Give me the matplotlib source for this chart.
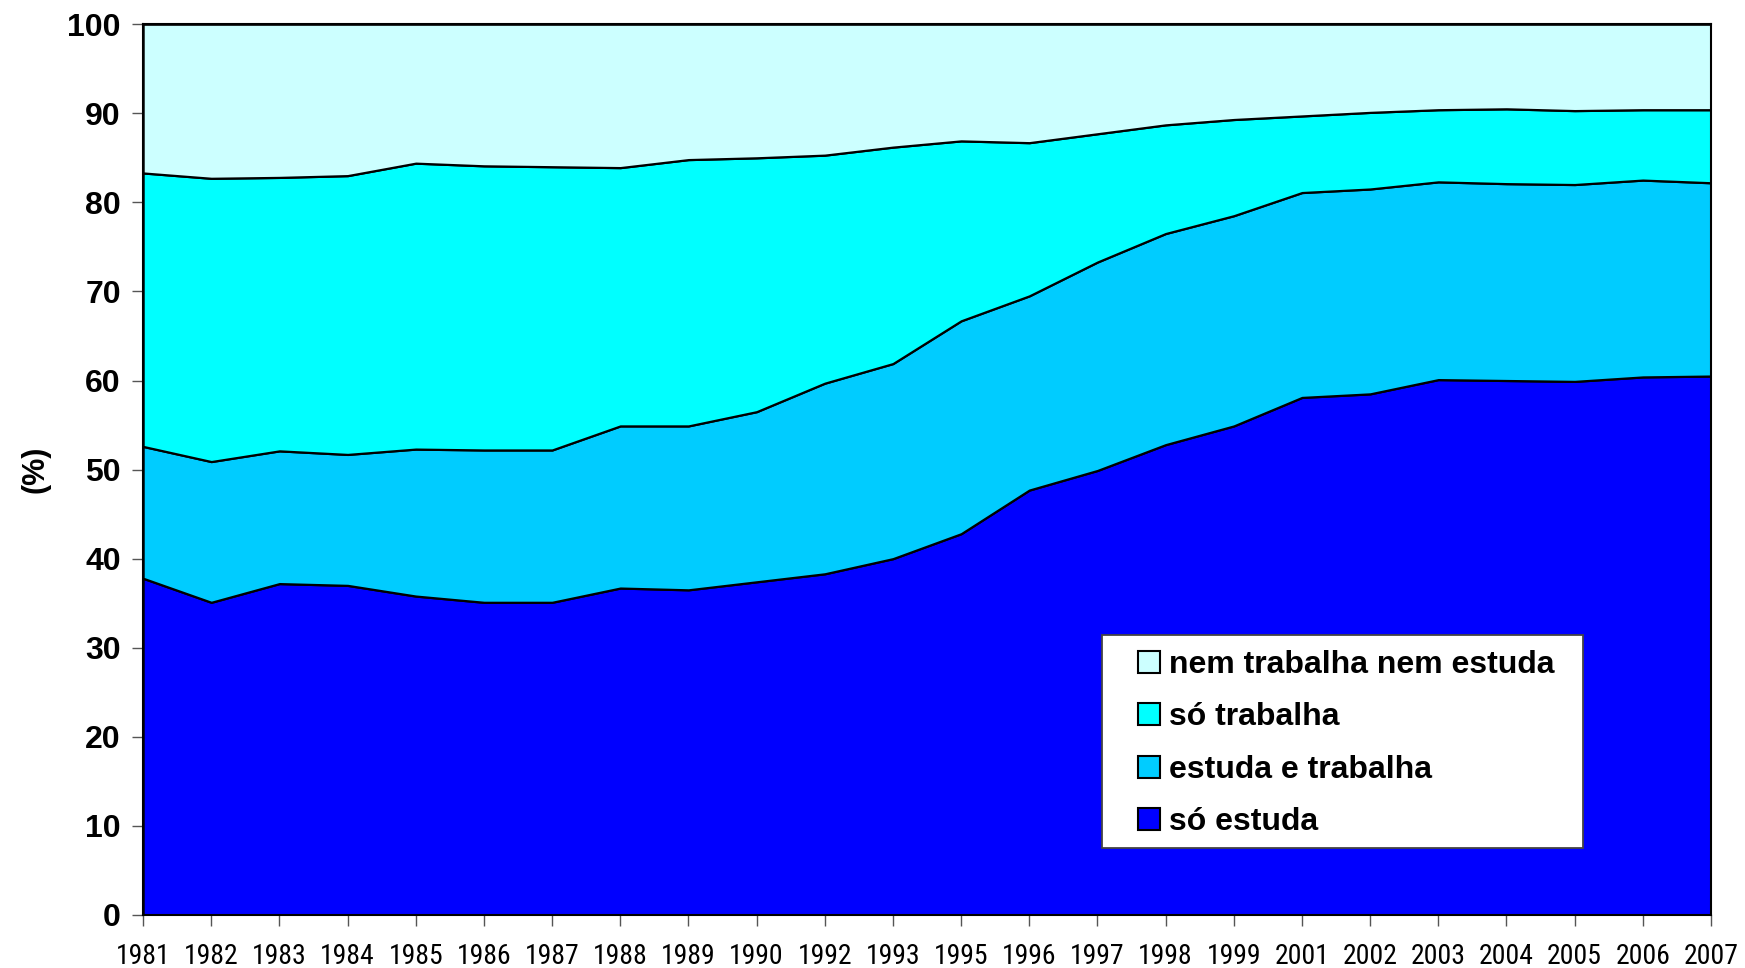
import numpy as np
import matplotlib
matplotlib.use("Agg")
import matplotlib.pyplot as plt
from matplotlib import font_manager
from matplotlib.patches import Rectangle

anos = ["1981", "1982", "1983", "1984", "1985", "1986", "1987", "1988", "1989", "1990",
        "1992", "1993", "1995", "1996", "1997", "1998", "1999", "2001", "2002", "2003",
        "2004", "2005", "2006", "2007"]

so_estuda = [37.8, 35.1, 37.2, 37.0, 35.8, 35.1, 35.1, 36.7, 36.5, 37.4, 38.3, 40.0,
             42.8, 47.7, 49.9, 52.8, 54.9, 58.1, 58.5, 60.1, 60.0, 59.9, 60.4, 60.5]
estuda_trabalha = [14.8, 15.8, 14.9, 14.7, 16.5, 17.1, 17.1, 18.2, 18.4, 19.1, 21.4, 21.9,
                   23.9, 21.8, 23.4, 23.7, 23.6, 23.0, 23.0, 22.2, 22.1, 22.1, 22.1, 21.7]
so_trabalha = [30.7, 31.8, 30.7, 31.3, 32.1, 31.9, 31.8, 29.0, 29.9, 28.5, 25.6, 24.3,
               20.2, 17.2, 14.4, 12.2, 10.8, 8.6, 8.6, 8.1, 8.4, 8.3, 7.9, 8.2]
nem_nem = [16.7, 17.3, 17.2, 17.0, 15.6, 15.9, 16.0, 16.1, 15.2, 15.0, 14.7, 13.8,
           13.1, 13.3, 12.3, 11.3, 10.7, 10.3, 9.9, 9.6, 9.5, 9.7, 9.6, 9.6]

labels = ["só estuda", "estuda e trabalha", "só trabalha", "nem trabalha nem estuda"]
cores = ["#0000ff", "#00ccff", "#00ffff", "#ccffff"]

plt.rcParams["font.family"] = ["Liberation Sans", "DejaVu Sans"]

# fonte estreita pros anos, se tiver
narrow = None
for f in font_manager.fontManager.ttflist:
    if "Narrow" in f.name or "Condensed" in f.name:
        if f.weight in (400, "normal", "regular") and f.style == "normal":
            narrow = f.name
            if "Liberation" in f.name:
                break

fig = plt.figure(figsize=(17.45, 9.68), dpi=100)
ax = fig.add_axes([0.082, 0.0548, 0.8985, 0.9202])

x = np.arange(len(anos))
ax.stackplot(x, so_estuda, estuda_trabalha, so_trabalha, nem_nem,
             colors=cores, labels=labels, edgecolor="black", linewidth=1.6)

ax.set_xlim(0, len(anos) - 1)
ax.set_ylim(0, 100)
ax.set_yticks(range(0, 101, 10))
ax.set_xticks(x)
if narrow:
    ax.set_xticklabels(anos, fontsize=20, family=[narrow, "DejaVu Sans"])
else:
    ax.set_xticklabels(anos, fontsize=15)
for t in ax.get_yticklabels():
    t.set_fontsize(23)
    t.set_fontweight("bold")
ax.tick_params(axis="y", direction="out", length=8, width=1, color="#555555", pad=8)
ax.tick_params(axis="x", direction="out", length=8, width=1, color="#555555", pad=12)
for s in ax.spines.values():
    s.set_linewidth(1.5)
    s.set_color("black")

ax.set_ylabel("(%)", fontsize=22, fontweight="bold", labelpad=12)

# caixa da legenda
fig.add_artist(Rectangle((0.6315, 0.124), 0.2756, 0.220, transform=fig.transFigure,
                         facecolor="white", edgecolor="#444444", linewidth=1.3, zorder=4))

h, l = ax.get_legend_handles_labels()
leg = fig.legend(h[::-1], l[::-1], loc="upper left", bbox_to_anchor=(0.6521, 0.3285),
                 prop={"weight": "bold", "size": 23}, handlelength=0.68, handleheight=0.68,
                 handletextpad=0.28, labelspacing=0.7, borderpad=0, borderaxespad=0,
                 frameon=False)
leg.set_zorder(5)
for p in leg.get_patches():
    p.set_edgecolor("black")
    p.set_linewidth(1.5)

fig.savefig("out.png", dpi=100)
